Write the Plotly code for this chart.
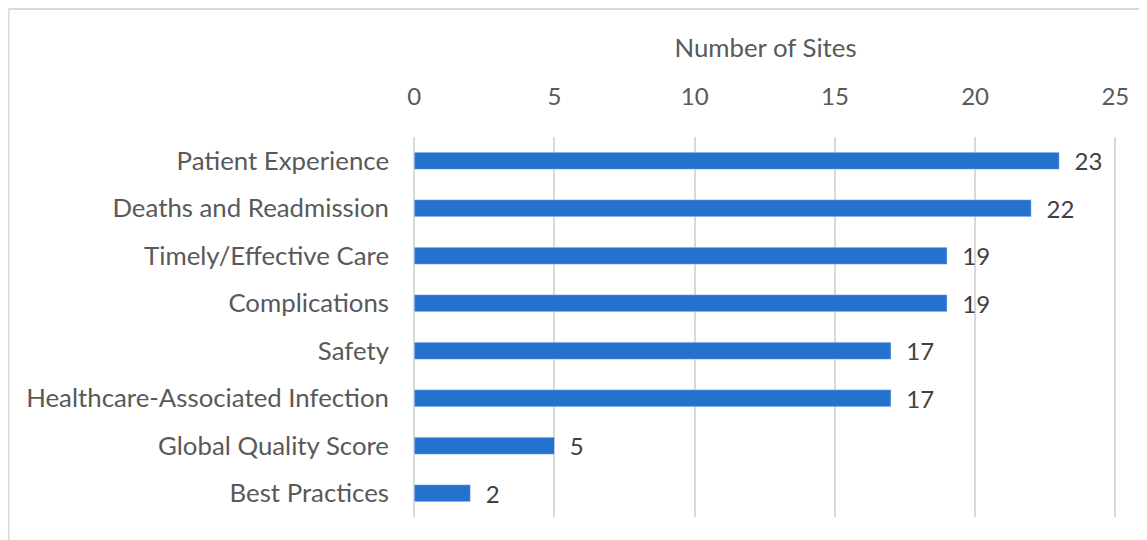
import plotly.graph_objects as go

categories = ["Patient Experience", "Deaths and Readmission", "Timely/Effective Care",
              "Complications", "Safety", "Healthcare-Associated Infection",
              "Global Quality Score", "Best Practices"]
sites = [23, 22, 19, 19, 17, 17, 5, 2]
tick_vals = [0, 5, 10, 15, 20, 25]

# page body adds 8px offset, so figure is sized to the remaining area
W, H = 1139, 532
L, R, T, B = 406, 30, 129, 23
pw, ph = W - L - R, H - T - B
FS = 24
LFS = 25.8

fig = go.Figure()
fig.add_trace(go.Bar(
    x=sites, y=categories, orientation="h",
    marker=dict(color="#2571CE"),
    width=0.36,
    text=["\u00a0\u00a0" + str(v) for v in sites], textposition="outside",
    constraintext="none",
    textfont=dict(size=FS, color="#404040"),
    cliponaxis=False,
))

# chart border (top and left only visible in the crop)
bx = (0.5 - L) / pw
by = (H - B - 1) / ph
fig.add_shape(type="line", xref="paper", yref="paper", x0=bx, x1=1.2, y0=by, y1=by,
              line=dict(color="#d9d9d9", width=2))
fig.add_shape(type="line", xref="paper", yref="paper", x0=bx, x1=bx, y0=by, y1=-0.2,
              line=dict(color="#d9d9d9", width=2))

fig.update_layout(
    width=W, height=H,
    margin=dict(l=L, r=R, t=T, b=B),
    paper_bgcolor="white", plot_bgcolor="white",
    font=dict(family="Lato, Open Sans, sans-serif", color="#595959", size=FS),
    showlegend=False,
    xaxis=dict(side="top", range=[-0.01, 25.06], tickvals=tick_vals,
               showgrid=True, gridcolor="#d9d9d9", gridwidth=1.5,
               zeroline=True, zerolinecolor="#d9d9d9", zerolinewidth=1.5,
               showline=False, ticks="",
               tickfont=dict(size=FS), ticklabelstandoff=26,
               title=dict(text="Number of Sites", font=dict(size=LFS), standoff=16)),
    yaxis=dict(autorange="reversed", showgrid=False, showline=False, ticks="",
               tickfont=dict(size=LFS, color="#595959"), ticklabelstandoff=24),
)

fig.write_html("out.html")
